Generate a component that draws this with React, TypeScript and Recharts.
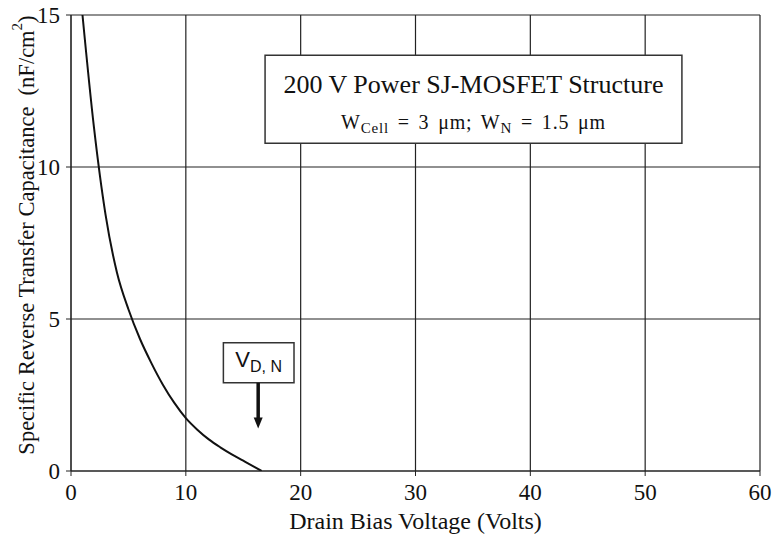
import { LineChart, Line, XAxis, YAxis, CartesianGrid, ReferenceArea, ReferenceLine } from 'recharts'

// drain bias voltage (V) vs specific reverse transfer capacitance (nF/cm2)
const voltage = [1, 2, 3, 4, 5, 6, 7, 8, 9, 10, 11, 12, 13, 14, 15, 16, 16.6]
const capacitance = [15, 11.3, 8.45, 6.53, 5.32, 4.35, 3.55, 2.84, 2.24, 1.74, 1.36, 1.04, 0.78, 0.55, 0.34, 0.13, 0]

const xTicks = [0, 10, 20, 30, 40, 50, 60]
const yTicks = [0, 5, 10, 15]

// annotation boxes, in data units
const titleBox = { x1: 16.9, x2: 53.2, y1: 10.78, y2: 13.68 }
const vdnBox = { x1: 13.27, x2: 19.42, y1: 2.9, y2: 4.22 }
const vdnArrow = { x: 16.3, from: 2.9, to: 1.4 }

const data = voltage.map((v, i) => ({ v, c: capacitance[i] }))

const SERIF = '"Liberation Serif", "Times New Roman", serif'
const SANS = '"Liberation Sans", Arial, sans-serif'

function TitleLabel(props: any) {
    const { x, y, width } = props.viewBox
    const cx = x + width / 2
    return (
        <g fontFamily={SERIF} fill="#111" textAnchor="middle">
            <text x={cx} y={y + 38} fontSize={26}>200 V Power SJ-MOSFET Structure</text>
            <text x={cx} y={y + 74} fontSize={20} wordSpacing={3} letterSpacing={0.8}>
                W<tspan fontSize={15} dy={4}>Cell</tspan>
                <tspan dy={-4}> = 3 μm; W</tspan>
                <tspan fontSize={15} dy={4}>N</tspan>
                <tspan dy={-4}> = 1.5 μm</tspan>
            </text>
        </g>
    )
}

function VdnLabel(props: any) {
    const { x, y, width } = props.viewBox
    return (
        <text x={x + width / 2} y={y + 24.5} fontFamily={SANS} fontSize={22} fill="#111" textAnchor="middle">
            V<tspan fontSize={16} dy={5}>D, N</tspan>
        </text>
    )
}

function Arrow(props: any) {
    const { x1, y1, x2, y2 } = props
    return (
        <g>
            <line x1={x1} y1={y1} x2={x2} y2={y2 - 10} stroke="#111" strokeWidth={3.5} />
            <polygon points={`${x2 - 4.5},${y2 - 11} ${x2 + 4.5},${y2 - 11} ${x2},${y2}`} fill="#111" />
        </g>
    )
}

function YTitle(props: any) {
    const { x, y, height } = props.viewBox
    const cx = x + 26
    const cy = y + height / 2 - 8
    return (
        <text
            x={cx}
            y={cy}
            transform={`rotate(-90, ${cx}, ${cy})`}
            textAnchor="middle"
            dominantBaseline="central"
            fontFamily={SERIF}
            fontSize={22.5}
            fill="#111"
        >
            Specific Reverse Transfer Capacitance{'\u00a0\u00a0'}(nF/cm<tspan fontSize={15} dy={-9}>2</tspan>
            <tspan dy={9}>)</tspan>
        </text>
    )
}

function XTitle(props: any) {
    const { x, y, width } = props.viewBox
    return (
        <text x={x + width / 2} y={y + 58} textAnchor="middle" fontFamily={SERIF} fontSize={24} fill="#111">
            Drain Bias Voltage (Volts)
        </text>
    )
}

export default function App() {
    const tickStyle = { fontFamily: SERIF, fontSize: 23, fill: '#111' }
    return (
        <div style={{ position: 'absolute', left: 0, top: 0, background: '#fff' }}>
            <LineChart width={772} height={537} data={data} margin={{ top: 15, right: 12, left: 0, bottom: 6 }}>
                <CartesianGrid stroke="#222" strokeWidth={1.2} />
                <XAxis
                    dataKey="v"
                    type="number"
                    domain={[0, 60]}
                    ticks={xTicks}
                    height={60}
                    tickSize={5}
                    tickMargin={8}
                    stroke="#222"
                    tick={tickStyle}
                    label={<XTitle />}
                />
                <YAxis
                    type="number"
                    domain={[0, 15]}
                    ticks={yTicks}
                    width={71}
                    tickSize={5}
                    tickMargin={6}
                    stroke="#222"
                    tick={tickStyle}
                    allowDataOverflow
                    label={<YTitle />}
                />
                <ReferenceArea
                    {...titleBox}
                    fill="#fff"
                    fillOpacity={1}
                    stroke="#333"
                    strokeWidth={1.5}
                    label={<TitleLabel />}
                />
                <ReferenceArea
                    {...vdnBox}
                    fill="#fff"
                    fillOpacity={1}
                    stroke="#333"
                    strokeWidth={1.5}
                    label={<VdnLabel />}
                />
                <ReferenceLine
                    segment={[{ x: vdnArrow.x, y: vdnArrow.from }, { x: vdnArrow.x, y: vdnArrow.to }]}
                    shape={<Arrow />}
                />
                <Line
                    dataKey="c"
                    type="monotone"
                    stroke="#111"
                    strokeWidth={2}
                    dot={false}
                    isAnimationActive={false}
                />
            </LineChart>
        </div>
    )
}
